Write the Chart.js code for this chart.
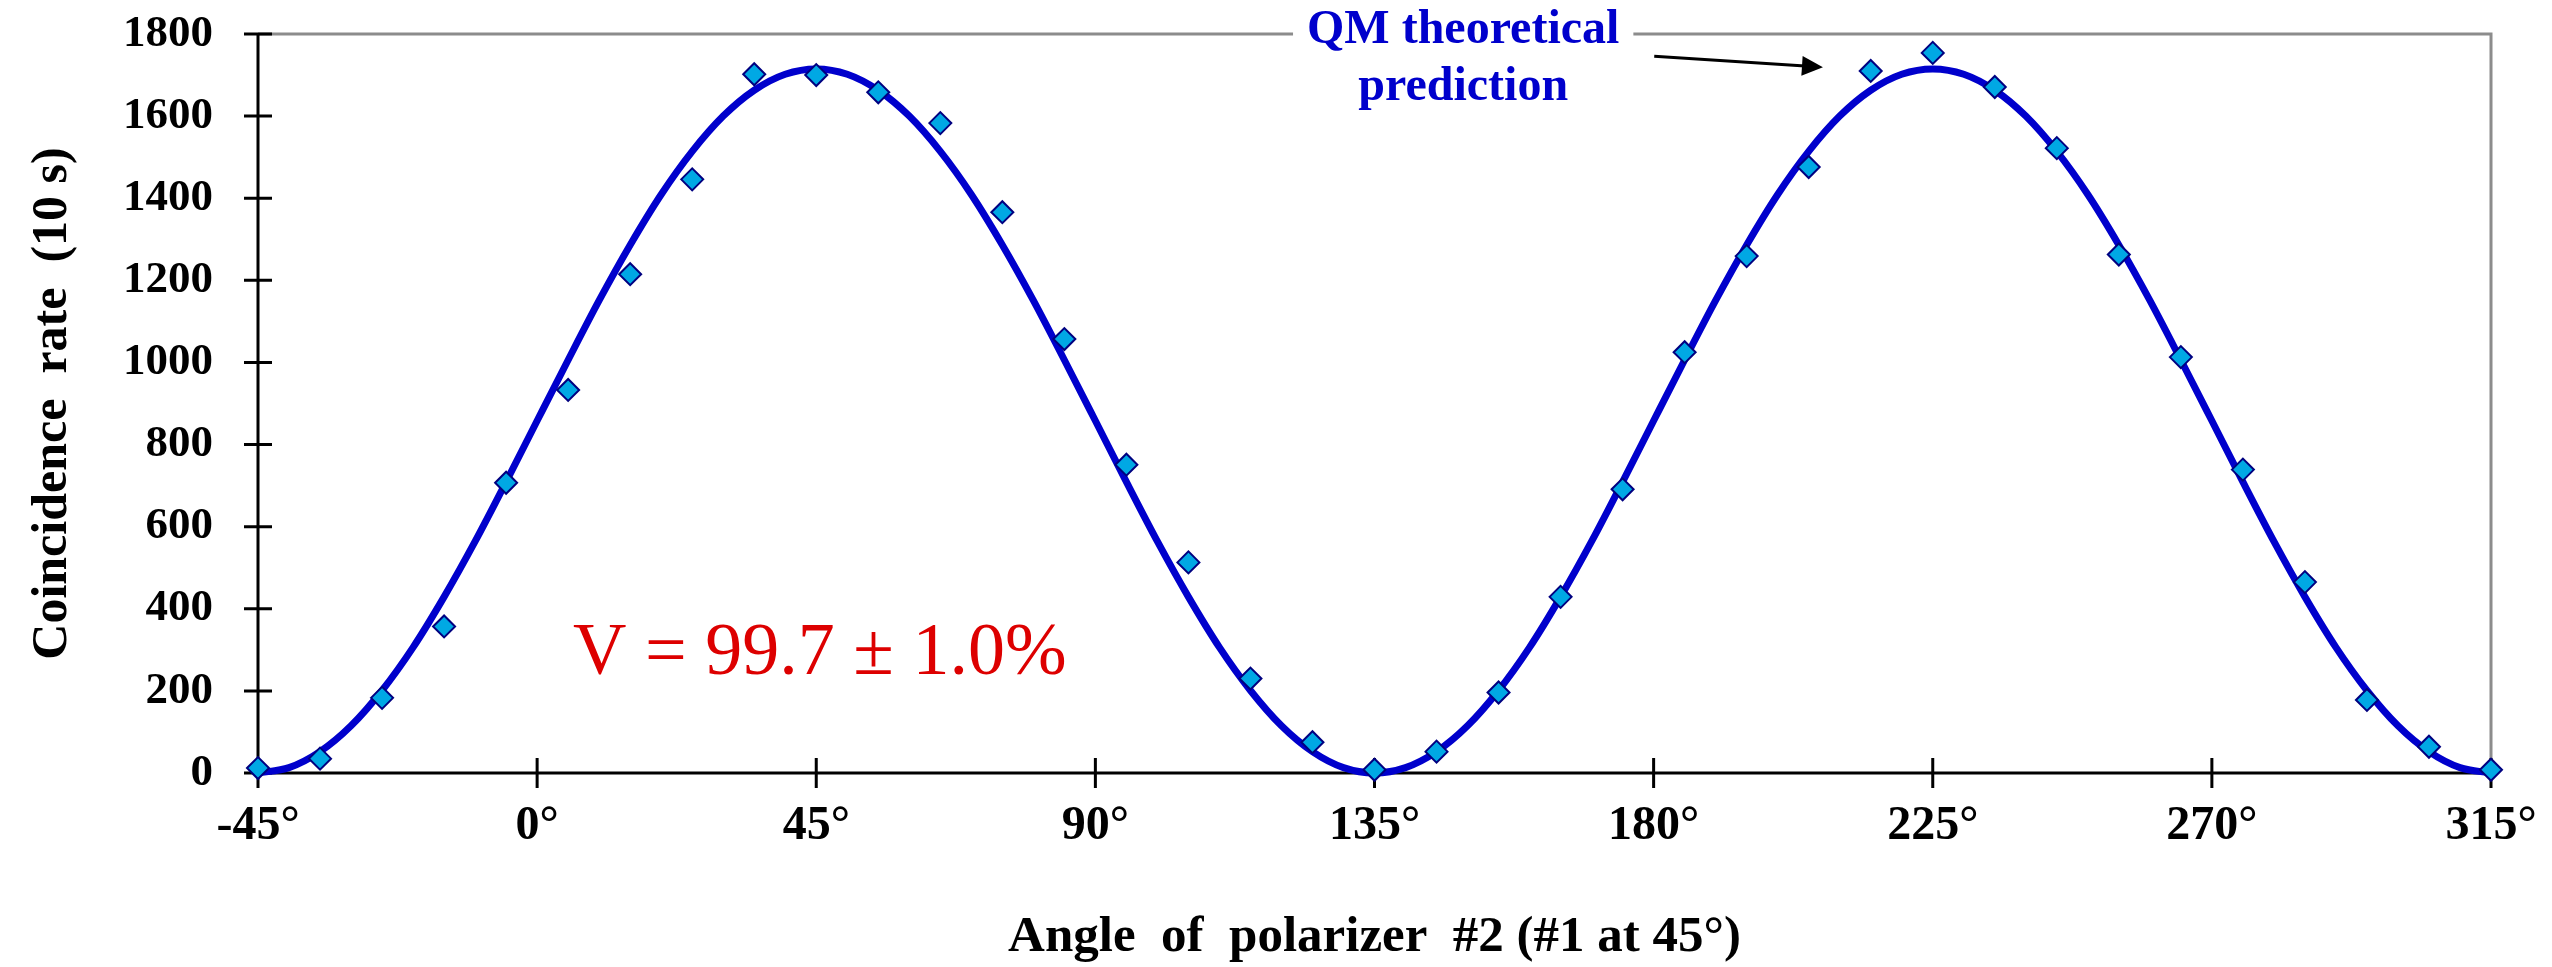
<!DOCTYPE html>
<html>
<head>
<meta charset="utf-8">
<title>Coincidence rate vs polarizer angle</title>
<script src="https://cdn.jsdelivr.net/npm/chart.js@4.4.1/dist/chart.umd.min.js"></script>
<style>
    html, body { margin: 0; padding: 0; background: #ffffff; }
    #root { width: 2552px; height: 967px; }
</style>
</head>
<body>
<div id="root"><canvas id="chart" width="2552" height="967"></canvas></div>
<script>
// measured points, every 10 degrees
const measuredAngles = [-45, -35, -25, -15, -5, 5, 15, 25, 35, 45, 55, 65, 75, 85, 95, 105, 115, 125, 135,
    145, 155, 165, 175, 185, 195, 205, 215, 225, 235, 245, 255, 265, 275, 285, 295, 305, 315];
const measuredRates = [12, 35, 183, 357, 707, 933, 1215, 1446, 1702, 1700, 1658, 1583, 1366, 1057, 751, 513, 230, 75, 8,
    52, 196, 429, 691, 1025, 1259, 1476, 1710, 1754, 1671, 1522, 1263, 1013, 739, 465, 178, 64, 8];

// QM prediction curve, read every 5 degrees
const theoryAngles = [-45, -40, -35, -30, -25, -20, -15, -10, -5, 0, 5, 10, 15, 20, 25, 30, 35, 40, 45,
    50, 55, 60, 65, 70, 75, 80, 85, 90, 95, 100, 105, 110, 115, 120, 125, 130, 135,
    140, 145, 150, 155, 160, 165, 170, 175, 180, 185, 190, 195, 200, 205, 210, 215, 220, 225,
    230, 235, 240, 245, 250, 255, 260, 265, 270, 275, 280, 285, 290, 295, 300, 305, 310, 315];
const theoryRates = [0, 13, 52, 115, 201, 306, 429, 564, 709, 858, 1006, 1151, 1286, 1409, 1514, 1600, 1663, 1702, 1715,
    1702, 1663, 1600, 1514, 1409, 1286, 1151, 1006, 858, 709, 564, 429, 306, 201, 115, 52, 13, 0,
    13, 52, 115, 201, 306, 429, 564, 709, 858, 1006, 1151, 1286, 1409, 1514, 1600, 1663, 1702, 1715,
    1702, 1663, 1600, 1514, 1409, 1286, 1151, 1006, 858, 709, 564, 429, 306, 201, 115, 52, 13, 0];

const angleTicks = [-45, 0, 45, 90, 135, 180, 225, 270, 315];
const rateTicks = [0, 200, 400, 600, 800, 1000, 1200, 1400, 1600, 1800];

const xTitle = "Angle  of  polarizer  #2 (#1 at 45\u00B0)";
const yTitle = "Coincidence  rate  (10 s)";
const noteLines = ["QM theoretical", "prediction"];
const visibilityText = "V = 99.7 \u00B1 1.0%";

const serif = '"Liberation Serif", "Times New Roman", serif';

window.addEventListener("DOMContentLoaded", loadEvent);

function loadEvent(){
    const canvas = document.getElementById("chart");
    createChart(canvas);
}

function toPoints(xs, ys){
    return xs.map((v, i) => ({ x: v, y: ys[i] }));
}

const frameAndNotes = {
    id: "frameAndNotes",
    beforeDatasetsDraw(chart){
        const { ctx, chartArea: area, scales: { x, y } } = chart;
        ctx.save();
        // grey frame top and right
        ctx.strokeStyle = "#8c8c8c";
        ctx.lineWidth = 3;
        ctx.beginPath();
        ctx.moveTo(area.left, area.top);
        ctx.lineTo(area.right, area.top);
        ctx.lineTo(area.right, area.bottom);
        ctx.stroke();
        // black axes
        ctx.strokeStyle = "#000000";
        ctx.beginPath();
        ctx.moveTo(area.left, area.top);
        ctx.lineTo(area.left, area.bottom);
        ctx.lineTo(area.right, area.bottom);
        ctx.stroke();
        // crossing tick marks
        ctx.beginPath();
        rateTicks.forEach(v => {
            const py = y.getPixelForValue(v);
            ctx.moveTo(area.left - 14, py);
            ctx.lineTo(area.left + 14, py);
        });
        angleTicks.forEach(v => {
            const px = x.getPixelForValue(v);
            ctx.moveTo(px, area.bottom - 15);
            ctx.lineTo(px, area.bottom + 15);
        });
        ctx.stroke();
        ctx.restore();
    },
    afterDraw(chart){
        const { ctx, scales: { x, y } } = chart;
        ctx.save();
        // QM label over the top frame
        ctx.font = "bold 48px " + serif;
        ctx.textAlign = "center";
        ctx.textBaseline = "alphabetic";
        const cx = x.getPixelForValue(149.3);
        const base1 = y.getPixelForValue(1778);
        const base2 = y.getPixelForValue(1639);
        const w = ctx.measureText(noteLines[0]).width;
        ctx.fillStyle = "#ffffff";
        ctx.fillRect(cx - w / 2 - 14, base1 - 44, w + 28, 52);
        ctx.fillStyle = "#0000cc";
        ctx.fillText(noteLines[0], cx, base1);
        ctx.fillText(noteLines[1], cx, base2);

        // arrow
        const x0 = x.getPixelForValue(180.1), y0 = y.getPixelForValue(1746);
        const x1 = x.getPixelForValue(207.3), y1 = y.getPixelForValue(1719);
        const ang = Math.atan2(y1 - y0, x1 - x0);
        ctx.strokeStyle = "#000000";
        ctx.fillStyle = "#000000";
        ctx.lineWidth = 3;
        ctx.beginPath();
        ctx.moveTo(x0, y0);
        ctx.lineTo(x1 - 18 * Math.cos(ang), y1 - 18 * Math.sin(ang));
        ctx.stroke();
        ctx.beginPath();
        ctx.moveTo(x1, y1);
        ctx.lineTo(x1 - 21 * Math.cos(ang) + 10 * Math.sin(ang), y1 - 21 * Math.sin(ang) - 10 * Math.cos(ang));
        ctx.lineTo(x1 - 21 * Math.cos(ang) - 10 * Math.sin(ang), y1 - 21 * Math.sin(ang) + 10 * Math.cos(ang));
        ctx.closePath();
        ctx.fill();

        // visibility
        ctx.font = "74px " + serif;
        ctx.textAlign = "left";
        ctx.fillStyle = "#dd0000";
        ctx.fillText(visibilityText, x.getPixelForValue(5.8), y.getPixelForValue(241));
        ctx.restore();
    }
};

function createChart(canvas){
    Chart.defaults.font.family = serif;
    Chart.defaults.color = "#000000";
    return new Chart(canvas, {
        type: "scatter",
        data: {
            datasets: [
                {
                    label: "Measured",
                    data: toPoints(measuredAngles, measuredRates),
                    pointStyle: "rectRot",
                    pointRadius: 11,
                    pointBackgroundColor: "#00a8e4",
                    pointBorderColor: "#000080",
                    pointBorderWidth: 2,
                    showLine: false,
                    clip: false
                },
                {
                    label: "QM theoretical prediction",
                    data: toPoints(theoryAngles, theoryRates),
                    showLine: true,
                    borderColor: "#0000cc",
                    borderWidth: 7,
                    pointRadius: 0,
                    cubicInterpolationMode: "monotone",
                    clip: false
                }
            ]
        },
        options: {
            responsive: false,
            animation: false,
            devicePixelRatio: 1,
            layout: { padding: { top: 34, right: 61, left: 0, bottom: 0 } },
            plugins: {
                legend: { display: false },
                tooltip: { enabled: false }
            },
            scales: {
                x: {
                    type: "linear",
                    min: -45,
                    max: 315,
                    afterBuildTicks: scale => { scale.ticks = angleTicks.map(v => ({ value: v })); },
                    afterFit: scale => {
                        scale.height = 194;
                        scale.paddingLeft = 0;
                        scale.paddingRight = 0;
                    },
                    grid: { display: false, drawTicks: false },
                    border: { display: false },
                    ticks: {
                        padding: 25,
                        maxRotation: 0,
                        font: { size: 48, weight: "bold" },
                        callback: v => v + "\u00B0"
                    },
                    title: {
                        display: true,
                        text: xTitle,
                        font: { size: 51, weight: "bold", lineHeight: 1 },
                        padding: { top: 0, bottom: 4 }
                    }
                },
                y: {
                    min: 0,
                    max: 1800,
                    afterBuildTicks: scale => { scale.ticks = rateTicks.map(v => ({ value: v })); },
                    afterFit: scale => {
                        scale.width = 258;
                        scale.paddingTop = 0;
                        scale.paddingBottom = 0;
                    },
                    grid: { display: false, drawTicks: false },
                    border: { display: false },
                    ticks: {
                        padding: 45,
                        font: { size: 45, weight: "bold" },
                        callback: v => String(v)
                    },
                    title: {
                        display: true,
                        text: yTitle,
                        font: { size: 50, weight: "bold", lineHeight: 1 },
                        padding: { top: 28, bottom: 0 }
                    }
                }
            }
        },
        plugins: [frameAndNotes]
    });
}
</script>
</body>
</html>
